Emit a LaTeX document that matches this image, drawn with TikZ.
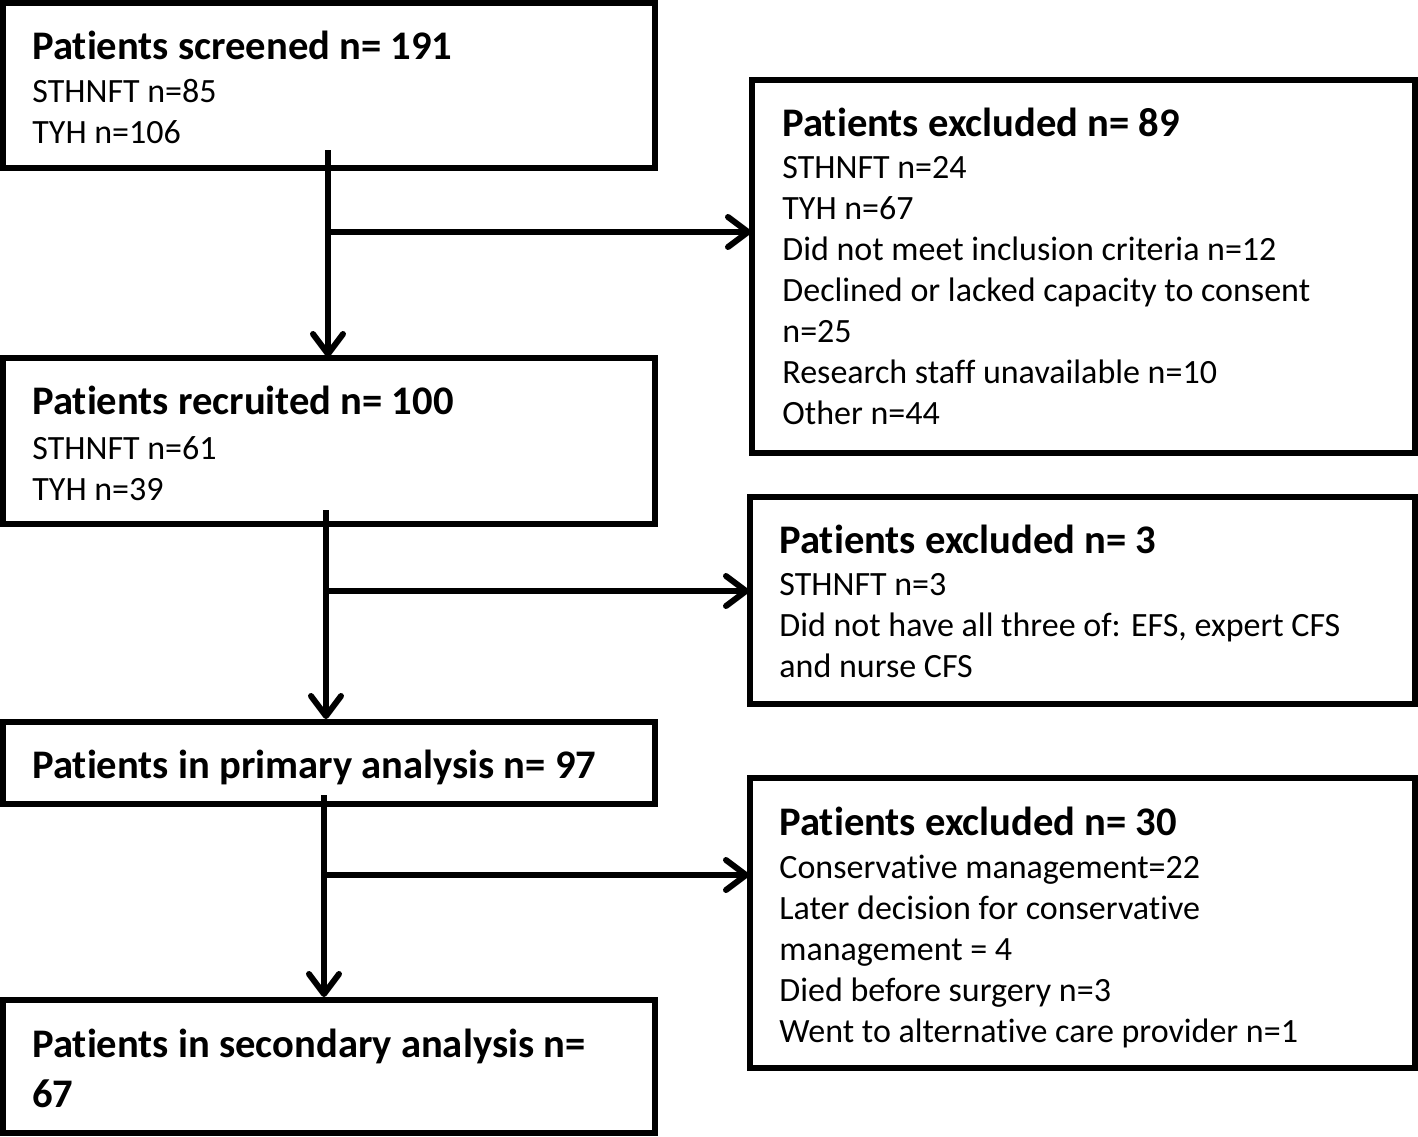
\documentclass[tikz,border=0pt]{standalone}
\usepackage{fontspec}
\setmainfont[Ligatures=NoCommon]{Carlito}
\usetikzlibrary{arrows.meta}
\begin{document}
\begin{tikzpicture}[x=0.5pt,y=-0.5pt,
  box/.style={draw,line width=3pt,inner sep=0pt},
  head/.style={anchor=base west,inner sep=0pt,font=\fontsize{20.3}{25}\selectfont\bfseries,align=left},
  body/.style={anchor=north west,inner sep=0pt,font=\fontsize{17}{20.5}\selectfont,align=left},
  flow/.style={line width=3pt,-{Straight Barb[length=10pt,width=15pt,line width=3pt,round]}}]
\useasboundingbox (0,0) rectangle (1418,1136);
% boxes
\draw[box] (3,3) rectangle (655,168);
\draw[box] (752,80) rectangle (1415,453);
\draw[box] (3,358) rectangle (655,524);
\draw[box] (750,497) rectangle (1415,704);
\draw[box] (3,722) rectangle (655,804);
\draw[box] (750,778) rectangle (1415,1068);
\draw[box] (3,1000) rectangle (655,1133);
% texts
\node[head] (h1) at (32,59) {Patients screened n= 191};
\node[body] (t1) at (32,79) {STHNFT n=85\\TYH n=106};
\node[head] (h2) at (782,136) {Patients excluded n= 89};
\node[body] (t2) at (782,156) {STHNFT n=24\\TYH n=67\\Did not meet inclusion criteria n=12\\Declined or lacked capacity to consent\\n=25\\Research staff unavailable n=10\\Other n=44};
\node[head] (h3) at (32,414) {Patients recruited n= 100};
\node[body] (t3) at (32,436) {STHNFT n=61\\TYH n=39};
\node[head] (h4) at (779,553) {Patients excluded n= 3};
\node[body] (t4) at (779,573) {STHNFT n=3\\Did not have all three of: EFS, expert CFS\\and nurse CFS};
\node[head] (h5) at (32,778) {Patients in primary analysis n= 97};
\node[head] (h6) at (779,835) {Patients excluded n= 30};
\node[body] (t6) at (779,855) {Conservative management=22\\Later decision for conservative\\management = 4\\Died before surgery n=3\\Went to alternative care provider n=1};
\node[head] (h7) at (32,1057) {Patients in secondary analysis n=};
\node[head] (h7b) at (32,1107) {67};
% connectors
\coordinate (s1) at (328,150); \coordinate (e1) at (328,357); \coordinate (j1) at (328,232); \coordinate (r1) at (751,232);
\coordinate (s2) at (326,510); \coordinate (e2) at (326,719); \coordinate (j2) at (326,591); \coordinate (r2) at (749,591);
\coordinate (s3) at (324,795); \coordinate (e3) at (324,997); \coordinate (j3) at (324,875); \coordinate (r3) at (749,875);
\draw[flow] (s1) -- (e1);
\draw[flow] ([xshift=-1.5pt]j1) -- (r1);
\draw[flow] (s2) -- (e2);
\draw[flow] ([xshift=-1.5pt]j2) -- (r2);
\draw[flow] (s3) -- (e3);
\draw[flow] ([xshift=-1.5pt]j3) -- (r3);
\end{tikzpicture}
\end{document}
